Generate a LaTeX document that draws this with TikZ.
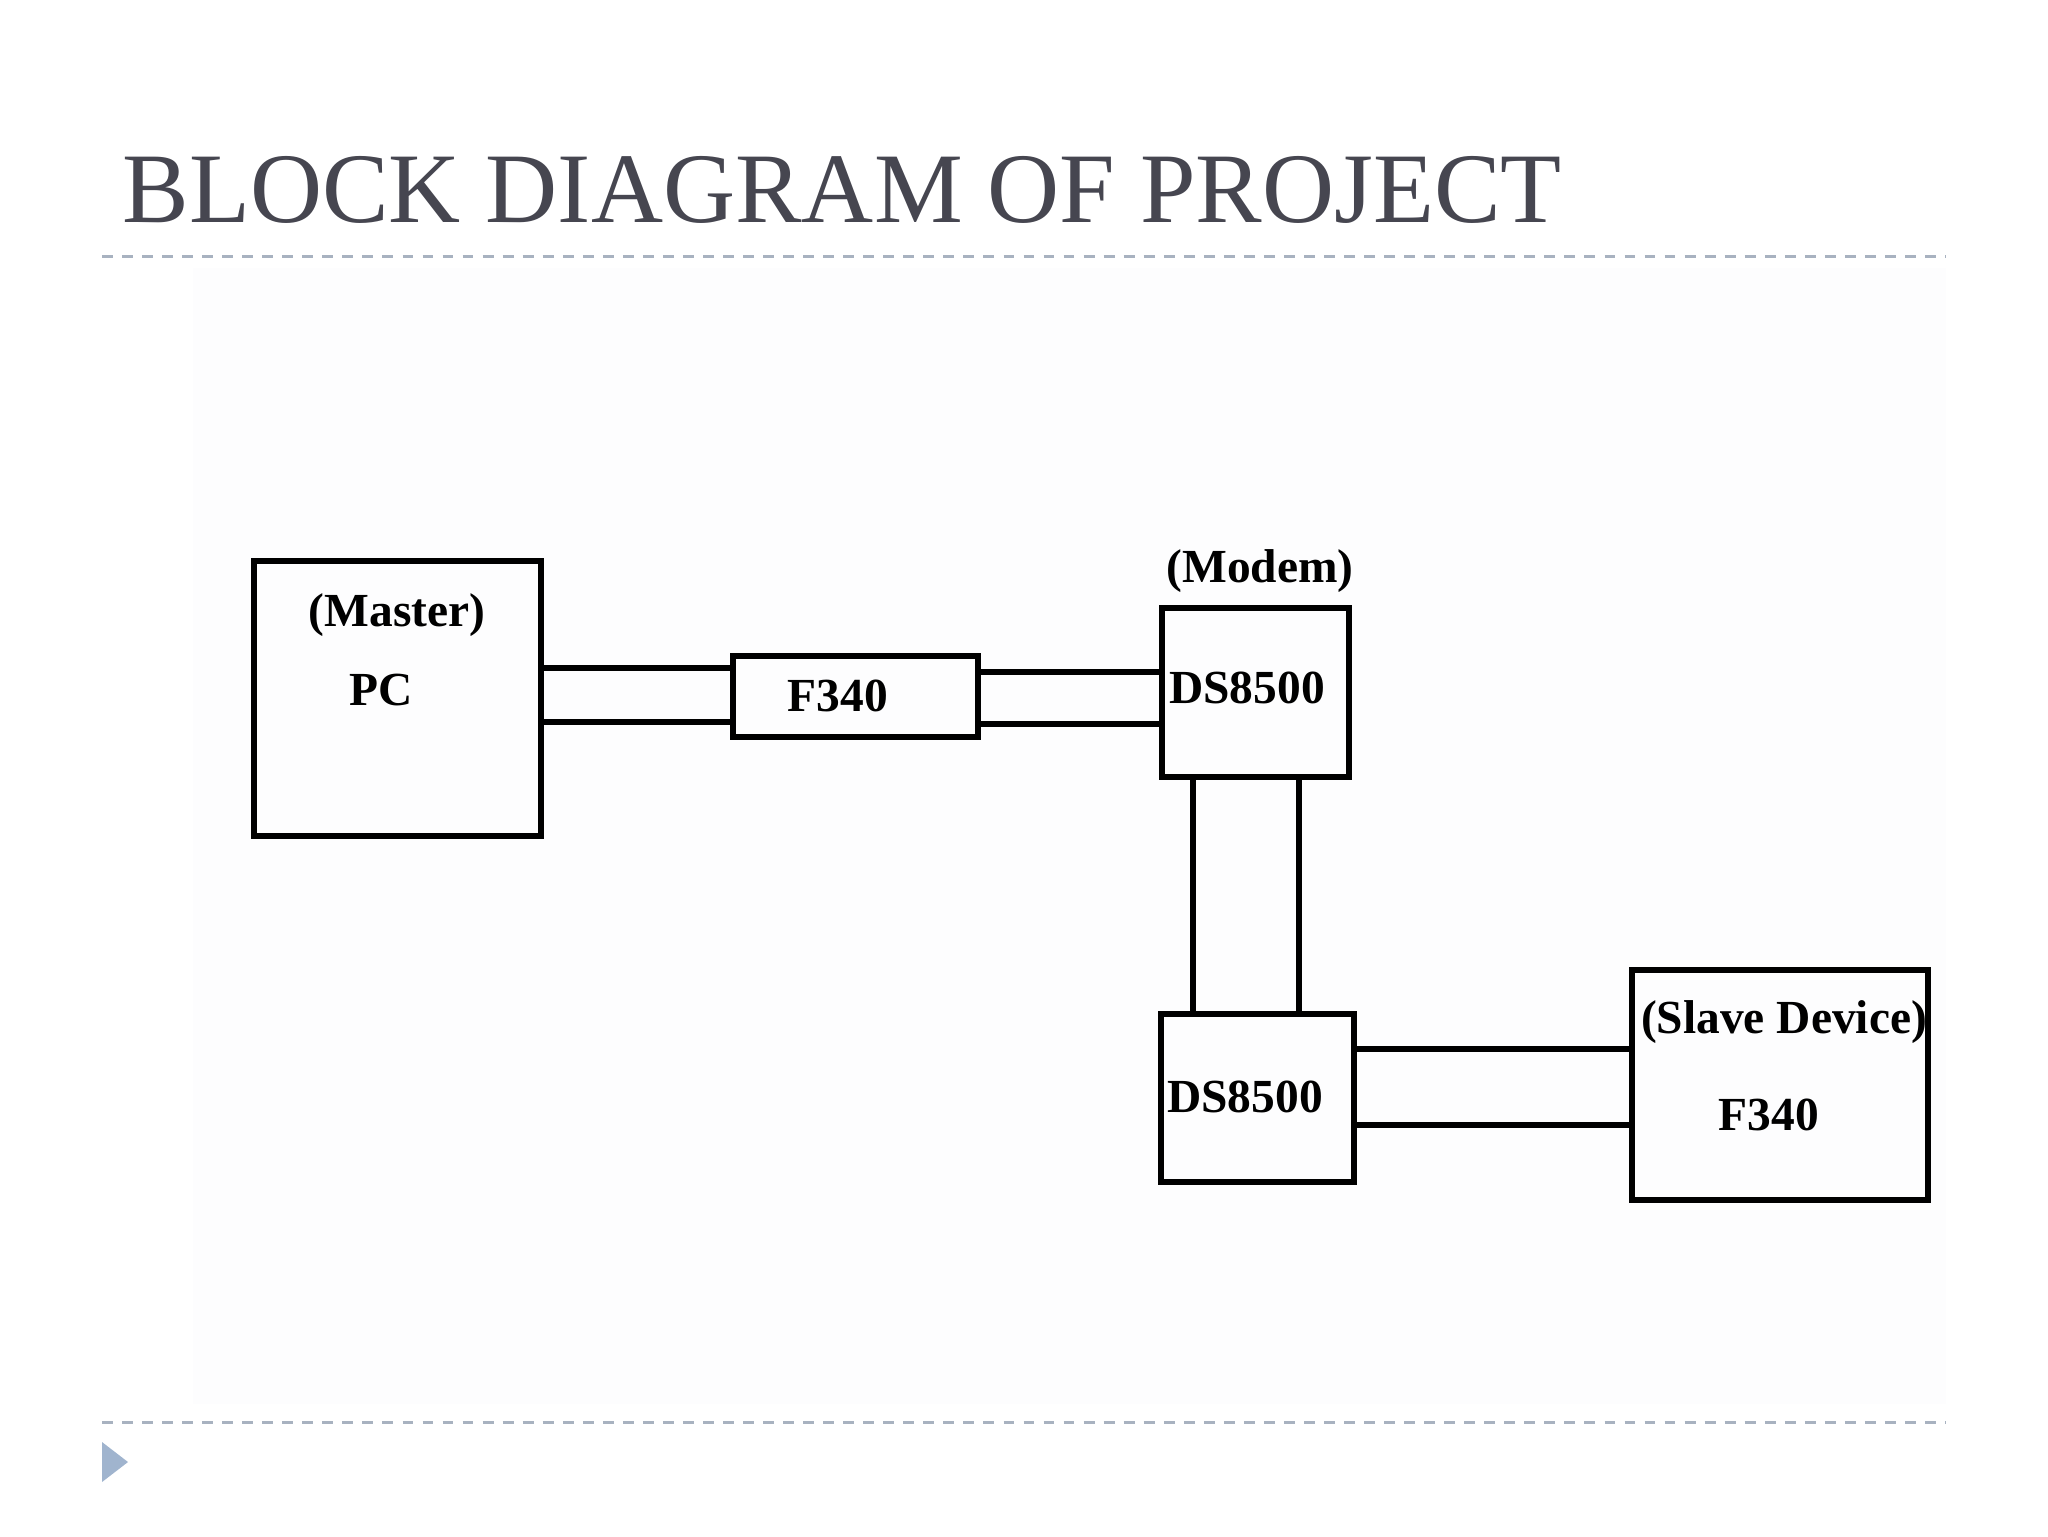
\documentclass[tikz,border=0pt]{standalone}
\usepackage{fontspec}
\setmainfont{Liberation Serif}
\usetikzlibrary{fit}

\definecolor{titlegray}{RGB}{70,70,80}
\definecolor{rulegray}{RGB}{168,178,192}
\definecolor{bulletblue}{RGB}{160,180,206}
\definecolor{pastewhite}{RGB}{253,253,254}

\tikzset{
  blk/.style={draw, line width=1.8pt, inner sep=0pt},
  wire/.style={line width=1.7pt},
  txt/.style={font=\fontsize{13.5}{16}\selectfont\bfseries, inner sep=0pt, anchor=base},
  sep/.style={rulegray, line width=0.85pt, dash pattern=on 3.1pt off 2.6pt}
}

\begin{document}
\begin{tikzpicture}[x=0.1mm, y=-0.1mm]
  \useasboundingbox (0,0) rectangle (2048,1536);
  \fill[pastewhite] (193,268) rectangle (1946,1404);

  % title and slide rules
  \node[titlegray, font=\fontsize{28.4}{34}\selectfont, inner sep=0pt, anchor=base west] (title) at (122,222) {BLOCK DIAGRAM OF PROJECT};
  \draw[sep] (102,256) -- (1946,256);
  \draw[sep] (102,1422) -- (1946,1422);
  \fill[bulletblue] (102,1442) -- (128,1462) -- (102,1482) -- cycle;

  % blocks
  \node[blk, fit={(254,561) (541,836)}] (pc) {};
  \node[blk, fit={(733,656) (978,737)}] (chip) {};
  \node[blk, fit={(1162,608) (1349,777)}] (modem) {};
  \node[blk, fit={(1161,1014) (1354,1182)}] (line) {};
  \node[blk, fit={(1632,970) (1928,1200)}] (slave) {};

  % labels
  \node[txt] (lmaster) at (397,626) {(Master)};
  \node[txt] (lpc) at (381,705) {PC};
  \node[txt] (lchip) at (838,711) {F340};
  \node[txt] (lmodem) at (1260,582) {(Modem)};
  \node[txt] (lds1) at (1247,703) {DS8500};
  \node[txt] (lds2) at (1245,1112) {DS8500};
  \node[txt] (lslave) at (1784,1033) {(Slave Device)};
  \node[txt] (lslavechip) at (1769,1130) {F340};

  % double wires
  \foreach \y in {668, 722}
    \draw[wire] (pc.east |- 0,\y) -- (chip.west |- 0,\y);
  \foreach \y in {672, 724}
    \draw[wire] (chip.east |- 0,\y) -- (modem.west |- 0,\y);
  \foreach \x in {1193, 1299}
    \draw[wire] (modem.south -| \x,0) -- (line.north -| \x,0);
  \foreach \y in {1049, 1125}
    \draw[wire] (line.east |- 0,\y) -- (slave.west |- 0,\y);
\end{tikzpicture}
\end{document}
